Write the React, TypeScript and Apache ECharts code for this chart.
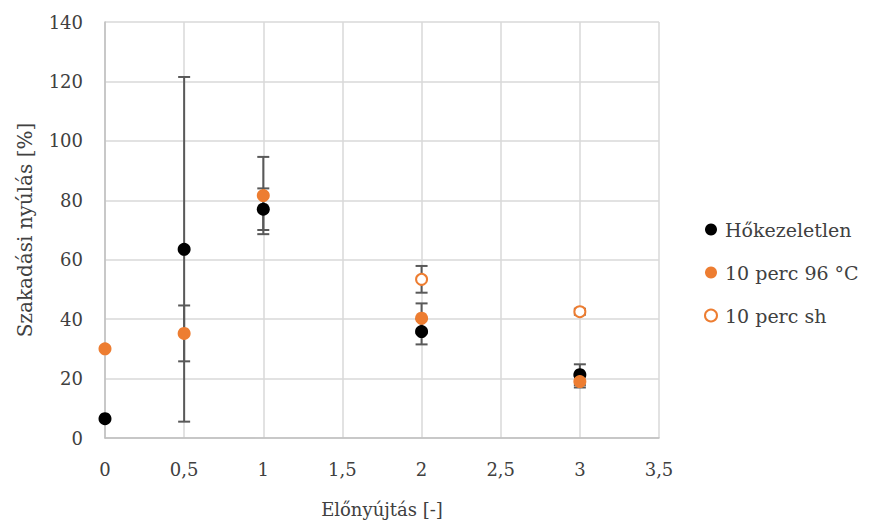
import React, { useEffect, useRef } from "react";
import * as echarts from "echarts";

const xValues = [0, 0.5, 1, 2, 3];
const hokezeletlen = [6.5, 63.5, 77, 35.8, 21.3];
const hokezeletlenErr = [0, 58, 7, 4.3, 3.5];
const perc96 = [30, 35.2, 81.6, 40.3, 19];
const perc96Err = [0, 9.4, 13, 5, 2];
const shX = [2, 3];
const sh = [53.4, 42.5];
const shErr = [4.5, 1];

const xTicks = ["0", "0,5", "1", "1,5", "2", "2,5", "3", "3,5"];

const FONT = "'DejaVu Serif', 'Liberation Serif', serif";
const TEXT = "#404040";
const ORANGE = "#ED7D31";

function errData(xs: number[], ys: number[], es: number[]) {
  return xs
    .map((x, i) => [x, ys[i] - es[i], ys[i] + es[i]])
    .filter((d, i) => es[i] > 0);
}

function errSeries(name: string, data: number[][]) {
  return {
    type: "custom",
    name,
    data,
    z: 1,
    silent: true,
    renderItem: (params: any, api: any) => {
      const x = api.value(0);
      const lo = api.coord([x, api.value(1)]);
      const hi = api.coord([x, api.value(2)]);
      const w = 6;
      const st = { stroke: "#595959", lineWidth: 2 };
      return {
        type: "group",
        children: [
          { type: "line", shape: { x1: lo[0], y1: lo[1], x2: hi[0], y2: hi[1] }, style: st },
          { type: "line", shape: { x1: lo[0] - w, y1: lo[1], x2: lo[0] + w, y2: lo[1] }, style: st },
          { type: "line", shape: { x1: hi[0] - w, y1: hi[1], x2: hi[0] + w, y2: hi[1] }, style: st },
        ],
      };
    },
  };
}

export default function App() {
  const ref = useRef<HTMLDivElement>(null);
  useEffect(() => {
    if (!ref.current) return;
    const chart = echarts.init(ref.current, null, { renderer: "svg" });
    chart.setOption({
      animation: false,
      backgroundColor: "#fff",
      textStyle: { fontFamily: FONT },
      grid: { left: 105, right: 210, top: 22, bottom: 86 },
      xAxis: {
        type: "value",
        min: 0,
        max: 3.5,
        interval: 0.5,
        name: "Előnyújtás [-]",
        nameLocation: "middle",
        nameGap: 62,
        nameTextStyle: { color: TEXT, fontSize: 18, fontFamily: FONT },
        axisLine: { show: true, lineStyle: { color: "#bfbfbf", width: 1.5 } },
        axisTick: { show: false },
        splitLine: { show: true, lineStyle: { color: "#d9d9d9", width: 1.5 } },
        axisLabel: {
          color: TEXT,
          fontSize: 18,
          fontFamily: FONT,
          margin: 22,
          formatter: (v: number) => xTicks[Math.round(v / 0.5)] ?? "",
        },
      },
      yAxis: {
        type: "value",
        min: 0,
        max: 140,
        interval: 20,
        name: "Szakadási nyúlás [%]",
        nameLocation: "middle",
        nameGap: 70,
        nameTextStyle: { color: TEXT, fontSize: 20, fontFamily: FONT },
        axisLine: { show: true, lineStyle: { color: "#bfbfbf", width: 1.5 } },
        axisTick: { show: false },
        splitLine: { show: true, lineStyle: { color: "#d9d9d9", width: 1.5 } },
        axisLabel: { color: TEXT, fontSize: 18, fontFamily: FONT, margin: 22 },
      },
      legend: {
        orient: "vertical",
        left: 699,
        top: 215,
        itemWidth: 12,
        itemHeight: 12,
        itemGap: 24,
        textStyle: { color: TEXT, fontSize: 19, fontFamily: FONT, padding: [0, 0, 0, 3] },
        data: [
          { name: "Hőkezeletlen", icon: "circle" },
          { name: "10 perc 96 °C", icon: "circle" },
          { name: "10 perc sh", icon: "circle" },
        ],
      },
      series: [
        errSeries("errA", errData(xValues, hokezeletlen, hokezeletlenErr)),
        errSeries("errB", errData(xValues, perc96, perc96Err)),
        errSeries("errC", errData(shX, sh, shErr)),
        {
          type: "scatter",
          name: "Hőkezeletlen",
          z: 3,
          symbolSize: 13,
          itemStyle: { color: "#000000", opacity: 1 },
          data: xValues.map((x, i) => [x, hokezeletlen[i]]),
        },
        {
          type: "scatter",
          name: "10 perc 96 °C",
          z: 4,
          symbolSize: 13,
          itemStyle: { color: ORANGE, opacity: 1 },
          data: xValues.map((x, i) => [x, perc96[i]]),
        },
        {
          type: "scatter",
          name: "10 perc sh",
          z: 5,
          symbolSize: 11,
          itemStyle: { color: "#ffffff", borderColor: ORANGE, borderWidth: 2, opacity: 1 },
          data: shX.map((x, i) => [x, sh[i]]),
        },
      ],
    });
    return () => chart.dispose();
  }, []);
  return (
    <div
      ref={ref}
      style={{ position: "absolute", left: 0, top: 0, width: 869, height: 524 }}
    />
  );
}
